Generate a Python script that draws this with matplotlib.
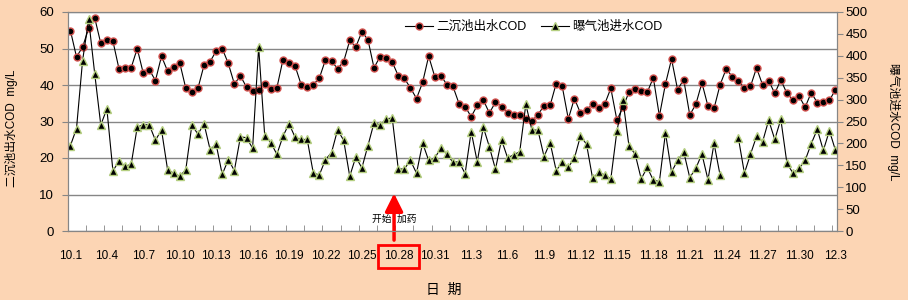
import numpy as np
import matplotlib.pyplot as plt

plt.rcParams['font.family'] = ['Liberation Sans', 'Noto Sans CJK SC']

# 二沉池出水COD (left axis), two readings per day, 10.1 - 12.3
effluent = [54.9, 47.7, 50.4, 55.5, 58.4, 51.4, 52.3, 52.0, 44.4, 44.7,
            44.7, 50.0, 43.2, 44.2, 41.2, 47.9, 43.8, 44.9, 46.1, 39.1,
            38.2, 39.1, 45.4, 46.4, 49.3, 50.0, 45.9, 40.3, 42.5, 39.4,
            38.3, 38.5, 40.3, 38.9, 39.2, 46.9, 46.0, 45.2, 40.1, 39.5,
            40.1, 41.9, 46.9, 46.5, 44.5, 46.4, 52.2, 50.4, 54.6, 52.4,
            44.7, 47.8, 47.3, 46.3, 42.5, 41.8, 39.2, 36.3, 40.7, 47.9,
            42.3, 42.6, 40.1, 39.6, 34.9, 34.1, 31.3, 34.4, 35.9, 32.3,
            35.3, 34.1, 32.2, 31.8, 31.7, 30.7, 30.1, 31.9, 34.3, 34.4,
            40.4, 39.6, 30.7, 36.3, 32.3, 33.2, 34.7, 33.7, 34.8, 39.1,
            30.4, 33.9, 38.1, 38.9, 38.3, 38.0, 42.0, 31.5, 40.3, 47.1,
            38.7, 41.5, 31.8, 34.7, 40.6, 34.2, 33.6, 40.1, 44.4, 42.3,
            41.2, 39.2, 39.6, 44.7, 40.0, 41.2, 37.7, 41.4, 37.7, 35.9,
            37.0, 33.9, 37.9, 35.2, 35.4, 35.8, 38.7]

# 曝气池进水COD (right axis)
influent = [195, 234, 389, 483, 359, 242, 279, 137, 160, 148,
            152, 237, 243, 242, 207, 231, 140, 132, 125, 140,
            242, 221, 245, 186, 198, 129, 163, 138, 215, 213,
            189, 420, 217, 202, 175, 216, 245, 214, 209, 209,
            132, 128, 163, 179, 231, 207, 125, 169, 144, 195,
            247, 242, 256, 258, 141, 142, 161, 132, 201, 161,
            166, 190, 175, 157, 158, 131, 227, 158, 237, 192,
            141, 208, 167, 174, 181, 289, 231, 230, 170, 202,
            138, 157, 146, 166, 217, 198, 120, 134, 128, 119,
            228, 298, 193, 176, 119, 145, 116, 113, 224, 135,
            161, 181, 122, 143, 176, 117, 200, 127, np.nan, np.nan,
            213, 132, 175, 216, 204, 253, 209, 255, 155, 132,
            143, 161, 199, 232, 184, 229, 184]

tick_labels = ['10.1', '10.4', '10.7', '10.10', '10.13', '10.16', '10.19',
               '10.22', '10.25', '10.28', '10.31', '11.3', '11.6', '11.9',
               '11.12', '11.15', '11.18', '11.21', '11.24', '11.27', '11.30',
               '12.3']

x = np.arange(len(effluent))
grey = '#868686'

fig = plt.figure(figsize=(9.08, 3.0), dpi=100, facecolor='#FCD5B4')
ax = fig.add_axes([68 / 908, 69 / 300, 769 / 908, 219 / 300])
ax.set_facecolor('white')

l1, = ax.plot(x, effluent, color='black', lw=0.8, marker='o', ms=5,
              mfc='black', mec='#D2504D', mew=1, label='二沉池出水COD')
ax2 = ax.twinx()
l2, = ax2.plot(x, influent, color='black', lw=0.8, marker='^', ms=5.5,
               mfc='black', mec='#B5CF80', mew=1, label='曝气池进水COD')

ax.set_xlim(-0.4, len(x) - 0.75)
ax.set_ylim(0, 60)
ax2.set_ylim(0, 500)
ax.set_yticks(range(0, 61, 10))
ax2.set_yticks(range(0, 501, 50))
ax.grid(axis='y', color=grey, lw=1)
ax.set_axisbelow(True)

ax.set_xticks(np.arange(0, len(x), 6), tick_labels)
ax.set_xticks(np.arange(2.5, len(x) - 1, 3), minor=True)
ax.tick_params(axis='x', which='major', length=0, pad=14, labelsize=8.5)
ax.tick_params(axis='x', which='minor', direction='in', length=4, color=grey)
ax.tick_params(axis='y', length=4, color=grey, labelsize=9.5, pad=6)
ax2.tick_params(axis='y', length=4, color=grey, labelsize=9.5, pad=2)

for a in (ax, ax2):
    for s in a.spines.values():
        s.set_color(grey)

ax.set_ylabel('二沉池出水COD  mg/L', fontsize=8.5)
ax.yaxis.set_label_coords(-0.065, 0.47)
ax2.set_ylabel('曝气池进水COD  mg/L', fontsize=8.5, rotation=270, va='center')
ax2.yaxis.set_label_coords(1.073, 0.5)
ax.set_xlabel('日  期', fontsize=10)
ax.xaxis.set_label_coords(0.489, -0.237)

fig.legend(handles=[l1, l2], loc='center left',
           bbox_to_anchor=(394 / 908, 1 - 27 / 300), ncol=2, frameon=False,
           fontsize=9, handlelength=2.2, handletextpad=0.25, columnspacing=1.2)

# dosing start marker
start_x = 53.3
ax.annotate('', xy=(start_x, 10.3), xytext=(start_x, -2.5),
            arrowprops=dict(arrowstyle='-|>,head_width=0.3,head_length=0.6',
                            color='red', lw=2.5, mutation_scale=18,
                            shrinkA=0, shrinkB=0),
            annotation_clip=False)
ax.text(start_x, 3.4, '开始  加药', ha='center', va='center', fontsize=7)

lab = ax.get_xticklabels()[tick_labels.index('10.28')]
lab.set_bbox(dict(facecolor='none', edgecolor='red', lw=2, pad=4))

fig.savefig('out.png', dpi=100, facecolor=fig.get_facecolor())
